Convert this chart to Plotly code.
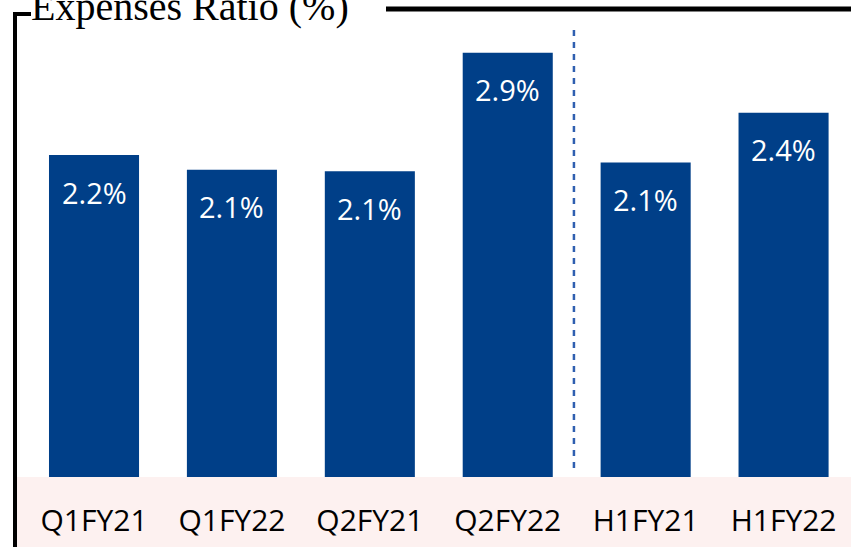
import plotly.graph_objects as go

# ------------------------------------------------------------
# Expenses Ratio (%) - bar chart
# ------------------------------------------------------------

periods = ["Q1FY21", "Q1FY22", "Q2FY21", "Q2FY22", "H1FY21", "H1FY22"]
ratio = [2.2, 2.1, 2.09, 2.9, 2.15, 2.49]
ratio_labels = ["2.2%", "2.1%", "2.1%", "2.9%", "2.1%", "2.4%"]

W, H = 851, 547
PLOT_BOTTOM = 477  # pixel row of the x axis


def px_x(x):
    return x / W


def px_y(y):
    return (PLOT_BOTTOM - y) / PLOT_BOTTOM


fig = go.Figure()

fig.add_trace(go.Bar(
    x=periods,
    y=ratio,
    width=0.653,
    marker=dict(color="#003F88", line=dict(width=0)),
    hoverinfo="skip",
))

for p, v, lab in zip(periods, ratio, ratio_labels):
    fig.add_annotation(
        x=p, y=v, text=lab, showarrow=False,
        yanchor="middle", yshift=-37,
        font=dict(family="Open Sans", size=29, color="white"),
    )

# title, cut off at the top edge (as in the source slide)
fig.add_annotation(
    xref="paper", yref="paper", x=px_x(29), y=px_y(31),
    xanchor="left", yanchor="bottom", showarrow=False,
    text="Expenses Ratio (%)",
    font=dict(family="Liberation Serif", size=40, color="black"),
)

shapes = [
    # pink band behind the category labels
    dict(type="rect", xref="paper", yref="paper",
         x0=px_x(17), x1=1, y0=px_y(H), y1=px_y(PLOT_BOTTOM),
         fillcolor="#FDF1F0", line=dict(width=0), layer="below"),
    # frame: left vertical
    dict(type="line", xref="paper", yref="paper",
         x0=px_x(15), x1=px_x(15), y0=px_y(12), y1=px_y(H + 5),
         line=dict(color="black", width=4)),
    # frame: little top-left stub
    dict(type="line", xref="paper", yref="paper",
         x0=px_x(13), x1=px_x(31), y0=px_y(14), y1=px_y(14),
         line=dict(color="black", width=4)),
    # frame: top right line
    dict(type="line", xref="paper", yref="paper",
         x0=px_x(386), x1=1.01, y0=px_y(9), y1=px_y(9),
         line=dict(color="black", width=5)),
    # dashed separator between quarters and halves
    dict(type="line", xref="x", yref="paper",
         x0=3.48, x1=3.48, y0=px_y(468), y1=px_y(30),
         line=dict(color="#2F5FB0", width=2.5, dash="6px,6px")),
]

fig.update_layout(
    width=W, height=H,
    margin=dict(l=0, r=0, t=0, b=H - PLOT_BOTTOM),
    paper_bgcolor="white",
    plot_bgcolor="white",
    showlegend=False,
    shapes=shapes,
    xaxis=dict(
        range=[-0.6817, 5.489],
        showgrid=False, zeroline=False, showline=False,
        ticks="", ticklabelstandoff=23,
        tickfont=dict(family="Open Sans", size=30, color="black"),
    ),
    yaxis=dict(
        range=[0, 3.26],
        visible=False, showgrid=False, zeroline=False,
    ),
)

fig.write_html(
    "out.html",
    config={"displayModeBar": False},
    post_script="document.body.style.margin='0';",
)
